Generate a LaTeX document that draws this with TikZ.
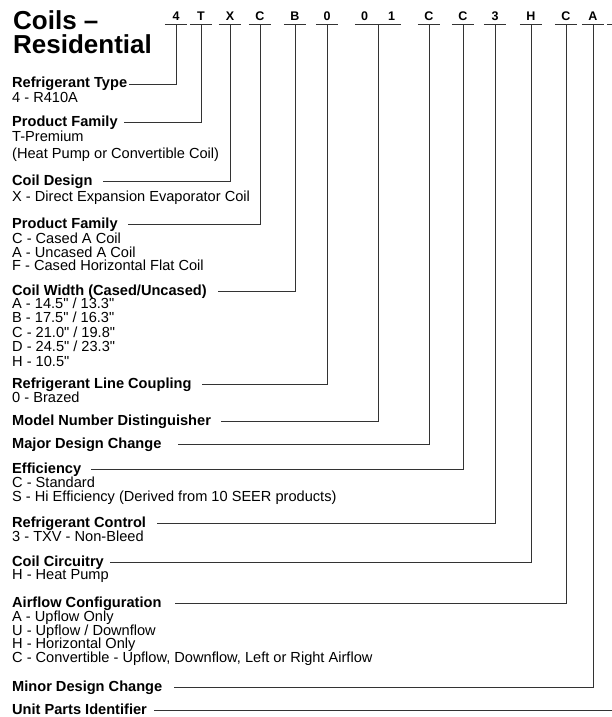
\documentclass[tikz,border=0pt]{standalone}
\usepackage{fontspec}
\setmainfont{Liberation Sans}[Ligatures=TeXOff]

\tikzset{
  titletext/.style={font=\bfseries\fontsize{26}{23.5}\selectfont, anchor=base west, inner sep=0pt},
  codechar/.style={font=\bfseries\fontsize{12.5}{12.5}\selectfont, anchor=base, inner xsep=0pt, inner ysep=3.5pt, minimum width=22pt},
  heading/.style={font=\bfseries\fontsize{14.6}{14}\selectfont, anchor=base west, inner sep=0pt, text height=10pt, text depth=2.5pt},
  desc/.style={font=\fontsize{14.6}{14}\selectfont, anchor=base west, inner sep=0pt},
  underline/.style={draw=black!80, line width=0.9pt},
  leader/.style={draw=black!80, line width=0.9pt}
}

\begin{document}
\begin{tikzpicture}[x=1pt, y=-1pt]
        \useasboundingbox (0,0) rectangle (612,717);
        \fill[white] (0,0) rectangle (612,717);
        \clip (0,0) rectangle (612,717);

        % Title
        \node[titletext] (title1) at (13,29.5) {Coils –};
        \node[titletext] (title2) at (13,53) {Residential};

        % Model number characters
        \node[codechar] (c1) at (176,20.5) {4};
        \node[codechar] (c2) at (201,20.5) {T};
        \node[codechar] (c3) at (230,20.5) {X};
        \node[codechar] (c4) at (260,20.5) {C};
        \node[codechar] (c5) at (295,20.5) {B};
        \node[codechar] (c6) at (327,20.5) {0};
        \node[codechar, minimum width=46pt] (c7) at (378,20.5) {0\hspace{20pt}1};
        \node[codechar] (c8) at (429,20.5) {C};
        \node[codechar] (c9) at (463,20.5) {C};
        \node[codechar] (c10) at (495,20.5) {3};
        \node[codechar] (c11) at (531,20.5) {H};
        \node[codechar] (c12) at (566,20.5) {C};
        \node[codechar] (c13) at (593,20.5) {A};
        \coordinate (c14) at (618,24);

        % Underlines
        \foreach \c in {c1,c2,c3,c4,c5,c6,c7,c8,c9,c10,c11,c12,c13}
          \draw[underline] (\c.south west) -- (\c.south east);
        \draw[underline] ([xshift=-11pt]c14) -- ([xshift=11pt]c14);

        % Refrigerant Type
        \node[heading] (t1) at (12,88) {Refrigerant Type};
        \node[desc] (d1) at (12,102.5) {4 - R410A};
        \draw[leader] (c1.south) |- ([xshift=2pt]t1.east);

        % Product Family
        \node[heading] (t2) at (12,126) {Product Family};
        \node[desc] (d2a) at (12,141.5) {T-Premium};
        \node[desc] (d2b) at (12,158) {(Heat Pump or Convertible Coil)};
        \draw[leader] (c2.south) |- ([xshift=6pt]t2.east);

        % Coil Design
        \node[heading] (t3) at (12,185) {Coil Design};
        \node[desc] (d3) at (12,201.5) {X - Direct Expansion Evaporator Coil};
        \draw[leader] (c3.south) |- ([xshift=10pt]t3.east);

        % Product Family (casing)
        \node[heading] (t4) at (12,228) {Product Family};
        \node[desc] (d4a) at (12,243.5) {C - Cased A Coil};
        \node[desc] (d4b) at (12,257) {A - Uncased A Coil};
        \node[desc] (d4c) at (12,270.5) {F - Cased Horizontal Flat Coil};
        \draw[leader] (c4.south) |- ([xshift=10pt]t4.east);

        % Coil Width
        \node[heading] (t5) at (12,295) {Coil Width (Cased/Uncased)};
        \node[desc] (d5a) at (12,308.5) {A - 14.5" / 13.3"};
        \node[desc] (d5b) at (12,322.5) {B - 17.5" / 16.3"};
        \node[desc] (d5c) at (12,337) {C - 21.0" / 19.8"};
        \node[desc] (d5d) at (12,351.5) {D - 24.5" / 23.3"};
        \node[desc] (d5e) at (12,366) {H - 10.5"};
        \draw[leader] (c5.south) |- ([xshift=11pt]t5.east);

        % Refrigerant Line Coupling
        \node[heading] (t6) at (12,388.5) {Refrigerant Line Coupling};
        \node[desc] (d6) at (12,402) {0 - Brazed};
        \draw[leader] (c6.south) |- ([xshift=10pt]t6.east);

        % Model Number Distinguisher
        \node[heading] (t7) at (12,425.5) {Model Number Distinguisher};
        \draw[leader] (c7.south) |- ([xshift=10pt]t7.east);

        % Major Design Change
        \node[heading] (t8) at (12,448) {Major Design Change};
        \draw[leader] (c8.south) |- ([xshift=16pt]t8.east);

        % Efficiency
        \node[heading] (t9) at (12,473.5) {Efficiency};
        \node[desc] (d9a) at (12,487.5) {C - Standard};
        \node[desc] (d9b) at (12,501) {S - Hi Efficiency (Derived from 10 SEER products)};
        \draw[leader] (c9.south) |- ([xshift=10pt]t9.east);

        % Refrigerant Control
        \node[heading] (t10) at (12,527) {Refrigerant Control};
        \node[desc] (d10) at (12,541) {3 - TXV - Non-Bleed};
        \draw[leader] (c10.south) |- ([xshift=11pt]t10.east);

        % Coil Circuitry
        \node[heading] (t11) at (12,566.5) {Coil Circuitry};
        \node[desc] (d11) at (12,579.5) {H - Heat Pump};
        \draw[leader] (c11.south) |- ([xshift=6pt]t11.east);

        % Airflow Configuration
        \node[heading] (t12) at (12,607.5) {Airflow Configuration};
        \node[desc] (d12a) at (12,621.5) {A - Upflow Only};
        \node[desc] (d12b) at (12,635) {U - Upflow / Downflow};
        \node[desc] (d12c) at (12,648.5) {H - Horizontal Only};
        \node[desc] (d12d) at (12,662) {C - Convertible - Upflow, Downflow, Left or Right Airflow};
        \draw[leader] (c12.south) |- ([xshift=13pt]t12.east);

        % Minor Design Change
        \node[heading] (t13) at (12,691) {Minor Design Change};
        \draw[leader] (c13.south) |- ([xshift=12pt]t13.east);

        % Unit Parts Identifier
        \node[heading] (t14) at (12,714) {Unit Parts Identifier};
        \draw[leader] (c14) |- ([xshift=7pt]t14.east);
    \end{tikzpicture}
\end{document}
